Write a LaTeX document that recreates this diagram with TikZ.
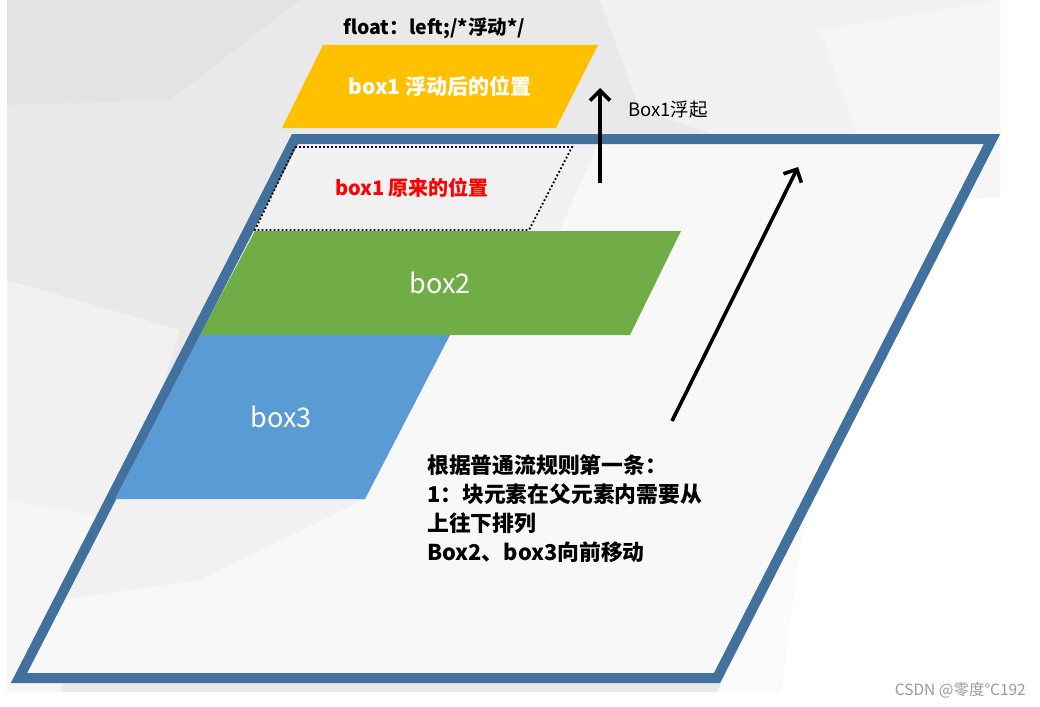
\documentclass[tikz,border=0pt]{standalone}
\usepackage{fontspec}
\setmainfont{Noto Sans CJK SC}
\usetikzlibrary{arrows.meta}
\definecolor{frameblue}{HTML}{41719C}
\definecolor{boxorange}{HTML}{FFC000}
\definecolor{boxgreen}{HTML}{70AD47}
\definecolor{boxblue}{HTML}{5B9BD5}
\definecolor{bgA}{HTML}{E9E9EA}
\definecolor{bgB}{HTML}{E3E3E5}
\definecolor{bgC}{HTML}{F1F1F2}
\definecolor{bgD}{HTML}{F6F6F7}
\definecolor{bgE}{HTML}{FBFBFC}
\definecolor{inside}{HTML}{F8F8F9}
\definecolor{wm}{HTML}{9A9A9A}
\begin{document}
\begin{tikzpicture}[x=1pt,y=-1pt,
  frame/.style={draw=frameblue, line width=10pt, line join=miter},
  lbl/.style={inner sep=0pt, anchor=center},
  bigarrow/.style={line width=3.6pt, -{Straight Barb[length=10pt,width=20pt,line width=3.6pt]}},
  dotbox/.style={draw=black, line width=1.8pt, dash pattern=on 1.8pt off 2.2pt}
]
\useasboundingbox (0,0) rectangle (1040,706);
% background (low-poly grey)
\fill[bgA] (7,0) -- (1000,0) -- (1000,197) -- (880,200) -- (830,330) -- (780,692) -- (7,692) -- cycle;
\fill[bgE] (1000,197) -- (880,200) -- (830,330) -- (780,692) -- (717,692) -- (962,197) -- cycle;
\fill[bgB] (7,0) -- (300,0) -- (170,100) -- (7,105) -- cycle;
\fill[bgC] (600,0) -- (1000,0) -- (1000,197) -- (880,200) -- (760,150) -- (640,110) -- cycle;
\fill[bgD] (820,30) -- (1000,0) -- (1000,197) -- (880,200) -- cycle;
\fill[bgC] (7,280) -- (180,330) -- (120,520) -- (7,692) -- cycle;
\fill[bgD] (7,500) -- (120,520) -- (60,692) -- (7,692) -- cycle;
% inside of the parent box
\fill[inside] (295,139) -- (992,139) -- (717,678) -- (19,678) -- cycle;
\fill[bgC] (295,139) -- (600,139) -- (560,230) -- (255,230) -- cycle;
\fill[bgC] (115,499) -- (365,499) -- (200,580) -- (60,600) -- cycle;
% parent frame
\draw[frame] (295,139) -- (992,139) -- (717,678) -- (19,678) -- cycle;
% box1 original (dotted)
\draw[dotbox] (295,147) -- (572,147) -- (529,230) -- (255,230) -- cycle;
\node[lbl, text=red, font=\fontsize{20}{24}\selectfont\bfseries] (orig) at (412,188) {box1 原来的位置};
% box2
\fill[boxgreen] (255,231) -- (681,231) -- (630,335) -- (200,335) -- cycle;
\node[lbl, text=white, font=\fontsize{27}{30}\selectfont] (b2) at (440,283) {box2};
% box3
\fill[boxblue] (200,335) -- (450,335) -- (365,499) -- (115,499) -- cycle;
\node[lbl, text=white, font=\fontsize{27}{30}\selectfont] (b3) at (281,417) {box3};
% box1 floated
\fill[boxorange] (323,45) -- (598,45) -- (556,128) -- (282,128) -- cycle;
\node[lbl, text=white, font=\fontsize{21}{24}\selectfont\bfseries] (fl) at (440,86) {box1 浮动后的位置};
% title
\node[lbl, font=\fontsize{19.5}{22}\selectfont\bfseries] (title) at (434,28) {float：left;/*浮动*/};
% arrows
\coordinate (s1) at (600,183);
\coordinate (e1) at (600,88);
\draw[bigarrow] (s1) -- (e1);
\node[lbl, anchor=west, font=\fontsize{18.5}{20}\selectfont] (up) at (628,110) {Box1浮起};
\coordinate (s2) at (672,421);
\coordinate (e2) at (798,167);
\draw[bigarrow] (s2) -- (e2);
% rule text
\node[inner sep=0pt, anchor=north west, align=left, font=\fontsize{21.8}{29}\selectfont\bfseries] (rule) at (427,454)
  {根据普通流规则第一条：\\1：块元素在父元素内需要从\\上往下排列\\Box2、box3向前移动};
% watermark
\node[lbl, anchor=east, text=wm, font=\fontsize{15.5}{17}\selectfont] (wmk) at (1026,690) {CSDN @零度℃192};
\end{tikzpicture}
\end{document}
